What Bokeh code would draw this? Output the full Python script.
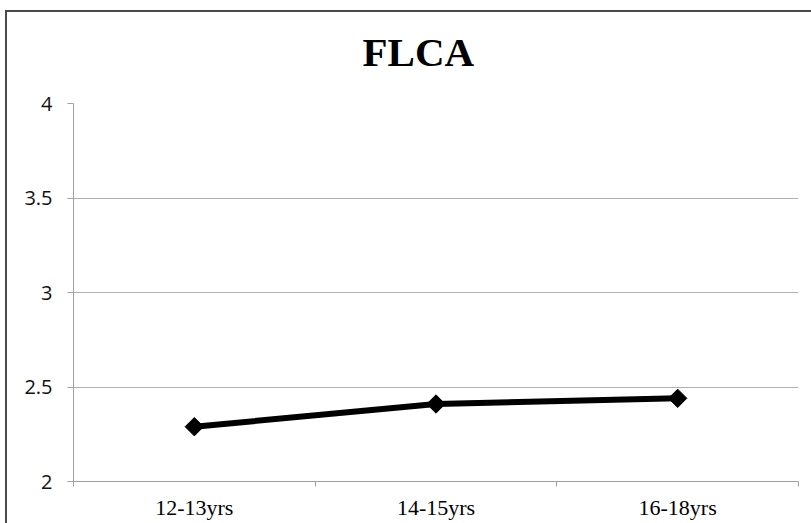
from bokeh.plotting import figure
from bokeh.models import Range1d, FixedTicker, ColumnDataSource, Title
from bokeh.embed import file_html
from bokeh.resources import INLINE

title_text = "FLCA"
categories = ["12-13yrs", "14-15yrs", "16-18yrs"]
values = [2.29, 2.41, 2.44]
y_ticks = [2, 2.5, 3, 3.5, 4]

centers = [i + 0.5 for i in range(len(categories))]
bounds = [float(i) for i in range(len(categories) + 1)]

src = ColumnDataSource(data=dict(x=centers, y=values, cat=categories))

p = figure(width=804, height=511, output_backend="svg", toolbar_location=None,
           x_range=Range1d(0, len(categories)), y_range=Range1d(min(y_ticks), max(y_ticks)),
           frame_width=725, frame_height=378,
           min_border_left=66, min_border_right=13, min_border_top=91, min_border_bottom=42)

p.styles = {"border-left": "2px solid #4a4a4a", "border-top": "2px solid #4a4a4a",
            "margin-left": "5px", "margin-top": "10px"}

p.outline_line_color = None
p.background_fill_color = "white"
p.border_fill_color = "white"

# spacer panel between frame and title
p.add_layout(Title(text=" ", text_font_size="10px", standoff=16), "above")
p.add_layout(Title(text=title_text, align="left", offset=289, standoff=0,
                   vertical_align="bottom",
                   text_font="Liberation Serif", text_font_style="bold",
                   text_font_size="41px", text_color="black"), "above")

# x axis
xa = p.xaxis[0]
xa.ticker = FixedTicker(ticks=centers, minor_ticks=bounds)
xa.major_label_overrides = {c: lab for c, lab in zip(centers, categories)}
xa.major_tick_out = 0
xa.major_tick_in = 0
xa.minor_tick_out = 5
xa.minor_tick_in = 0
xa.minor_tick_line_color = "#a0a0a0"
xa.axis_line_color = "#a0a0a0"
xa.major_label_text_font = "Liberation Serif"
xa.major_label_text_font_size = "22px"
xa.major_label_text_color = "black"
xa.major_label_standoff = 8

# y axis
ya = p.yaxis[0]
ya.ticker = FixedTicker(ticks=y_ticks)
ya.minor_tick_line_color = None
ya.major_tick_out = 6
ya.major_tick_in = 0
ya.major_tick_line_color = "#a0a0a0"
ya.axis_line_color = "#a0a0a0"
ya.major_label_text_font = "Open Sans"
ya.major_label_text_font_size = "20px"
ya.major_label_text_color = "#111111"
ya.major_label_standoff = 15

p.xgrid.grid_line_color = None
p.ygrid.ticker = FixedTicker(ticks=y_ticks)
p.ygrid.grid_line_color = "#b0b0b0"
p.ygrid.grid_line_width = 1

p.line("x", "y", source=src, line_color="black", line_width=6)
p.scatter("x", "y", source=src, marker="square", size=13, angle=0.785398,
          fill_color="black", line_color="black")

open("out.html", "w").write(file_html(p, INLINE))
